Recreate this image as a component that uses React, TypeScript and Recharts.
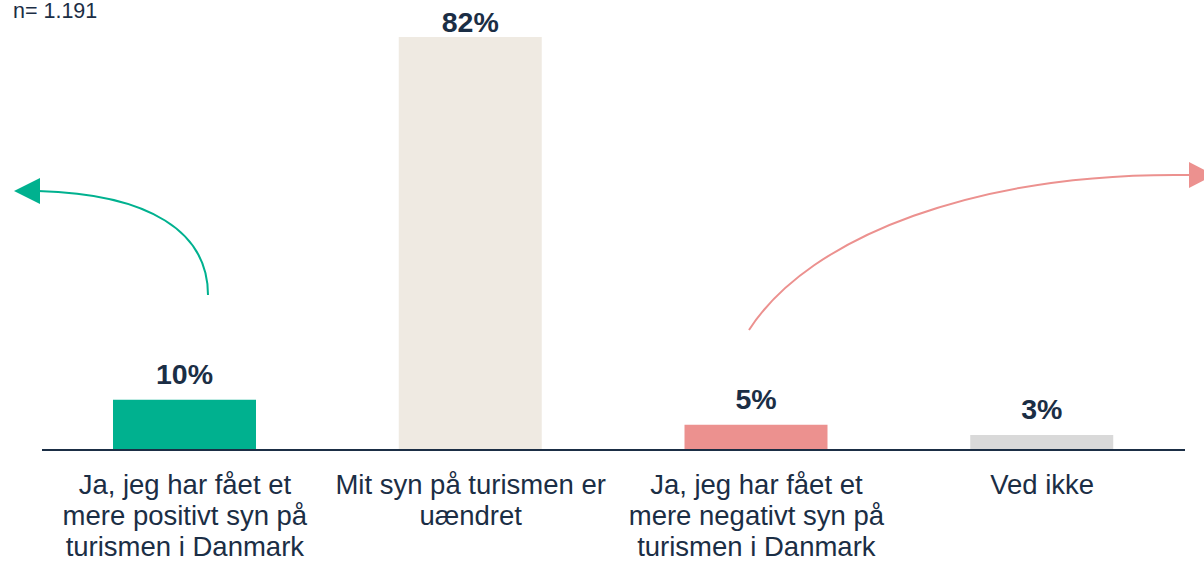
// Holdning til turisme – bar chart with curved arrows
import React from 'react';
import { BarChart, Bar, XAxis, YAxis, Cell, LabelList, Customized } from 'recharts';

const categories = ['positiv', 'uaendret', 'negativ', 'vedikke'];
const values = [10, 82, 5, 3];
const tickLines = [
  ['Ja, jeg har fået et', 'mere positivt syn på', 'turismen i Danmark'],
  ['Mit syn på turismen er', 'uændret'],
  ['Ja, jeg har fået et', 'mere negativt syn på', 'turismen i Danmark'],
  ['Ved ikke'],
];
const barColors = ['#00B18F', '#EFEAE2', '#EC918F', '#D9D9D9'];
const sampleNote = 'n= 1.191';

const TEXT = '#1B2E45';
const FONT = '"Liberation Sans", Arial, sans-serif';

const chartData = categories.map((c, i) => ({ key: c, value: values[i] }));

const CategoryTick = ({ x, y, payload }: any) => {
  const idx = categories.indexOf(payload.value);
  const lines = tickLines[idx] || [];
  return (
    <g transform={`translate(${x},${y})`}>
      {lines.map((l, i) => (
        <text
          key={i}
          x={0}
          y={36 + i * 31}
          textAnchor="middle"
          fill={TEXT}
          fontSize={27.5}
          fontFamily={FONT}
        >
          {l}
        </text>
      ))}
    </g>
  );
};

const ValueLabel = ({ x, y, width, value }: any) => {
  const baseline = Math.max(32, y - 16);
  return (
    <text
      x={x + width / 2}
      y={baseline}
      textAnchor="middle"
      fill={TEXT}
      fontSize={28.5}
      fontWeight="bold"
      fontFamily={FONT}
    >
      {`${value}%`}
    </text>
  );
};

// decorative arrows, as in the slide
const Arrows = () => (
  <g>
    <path d="M208,295 C208,232 150,194 38,191" fill="none" stroke="#00B18F" strokeWidth={2} />
    <polygon points="14,191 40,178 40,204" fill="#00B18F" />
    <path d="M749,330 C810,235 980,172 1190,175" fill="none" stroke="#EC918F" strokeWidth={2} />
    <polygon points="1189,162 1189,188 1214,175" fill="#EC918F" />
  </g>
);

export default function App() {
  return (
    <div style={{ position: 'absolute', left: 0, top: 0, width: 1204, height: 561, background: '#fff' }}>
      <div
        style={{
          position: 'absolute',
          left: 13,
          top: 0,
          fontFamily: FONT,
          fontSize: 21.5,
          lineHeight: '22px',
          color: TEXT,
        }}
      >
        {sampleNote}
      </div>
      <BarChart
        width={1204}
        height={561}
        data={chartData}
        margin={{ top: 22, right: 19, left: 42, bottom: 0 }}
        barSize={143}
      >
        <XAxis
          dataKey="key"
          axisLine={{ stroke: TEXT, strokeWidth: 2 }}
          tickLine={false}
          tick={<CategoryTick />}
          interval={0}
          height={111}
        />
        <YAxis hide domain={[0, 85]} />
        <Bar dataKey="value" isAnimationActive={false}>
          {chartData.map((d, i) => (
            <Cell key={d.key} fill={barColors[i]} />
          ))}
          <LabelList dataKey="value" content={<ValueLabel />} />
        </Bar>
        <Customized component={<Arrows />} />
      </BarChart>
    </div>
  );
}
